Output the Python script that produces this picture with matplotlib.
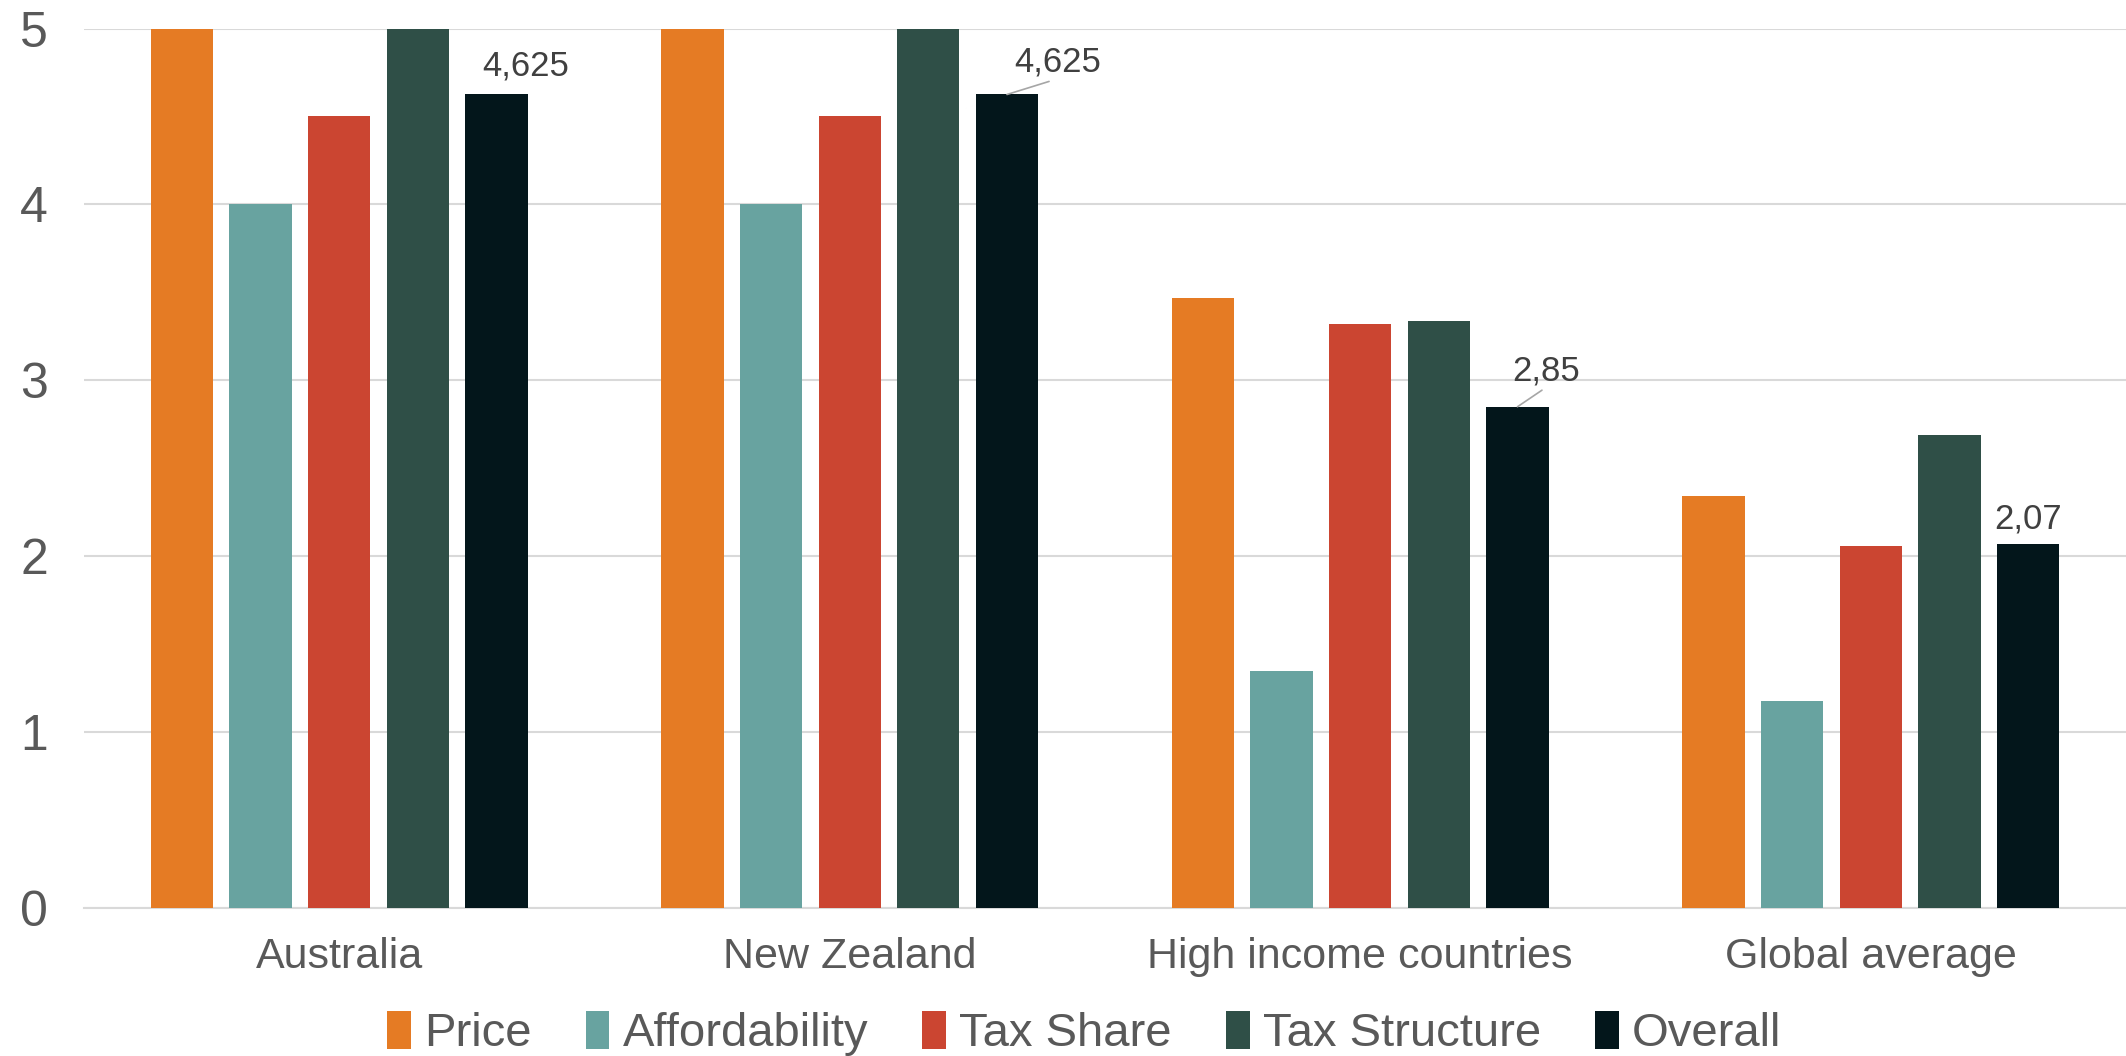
import matplotlib
matplotlib.use('Agg')
import matplotlib.pyplot as plt
import numpy as np

plt.rcParams['font.family'] = ['Liberation Sans', 'DejaVu Sans']

categories = ['Australia', 'New Zealand', 'High income countries', 'Global average']
series = ['Price', 'Affordability', 'Tax Share', 'Tax Structure', 'Overall']
price = [5, 5, 3.47, 2.34]
affordability = [4, 4, 1.35, 1.18]
tax_share = [4.5, 4.5, 3.32, 2.06]
tax_structure = [5, 5, 3.34, 2.69]
overall = [4.625, 4.625, 2.85, 2.07]
overall_labels = ['4,625', '4,625', '2,85', '2,07']

colors = ['#E57B24', '#68A3A0', '#CB4531', '#2F4F47', '#03161B']
values = [price, affordability, tax_share, tax_structure, overall]

fig = plt.figure(figsize=(21.26, 10.56), dpi=100)
ax = fig.add_axes([0.0395, 0.14, 0.9605, 0.833])

x = np.arange(len(categories))
width = 0.122
step = 0.154
for i, (name, vals, c) in enumerate(zip(series, values, colors)):
    ax.bar(x + (i - 2) * step, vals, width, color=c, label=name, zorder=3)

# data labels on the Overall bars (offsets: dx, dy, leader line or not)
label_pos = [(0.058, 0.07, False), (0.10, 0.09, True),
             (0.056, 0.11, True), (0.0, 0.05, False)]
for j, (v, lab) in enumerate(zip(overall, overall_labels)):
    bx = x[j] + 2 * step
    dx, dy, leader = label_pos[j]
    if leader:
        ax.annotate(lab, xy=(bx, v), xytext=(bx + dx, v + dy),
                    fontsize=25, color='#404040', ha='center', va='bottom',
                    arrowprops=dict(arrowstyle='-', color='#a6a6a6', lw=1.2,
                                    shrinkA=0, shrinkB=0, relpos=(0.5, 0)))
    else:
        ax.text(bx + dx, v + dy, lab, fontsize=25, color='#404040',
                ha='center', va='bottom')

ax.set_xlim(-0.5, 3.5)
ax.set_ylim(0, 5)
ax.set_yticks([0, 1, 2, 3, 4, 5])
ax.set_xticks(x)
ax.set_xticklabels(categories, fontsize=31, color='#595959')
ax.tick_params(axis='y', labelsize=36, labelcolor='#595959', length=0, pad=26)
ax.tick_params(axis='x', length=0, pad=21)
ax.grid(axis='y', color='#d9d9d9', lw=1.5, zorder=0)
for s in ['top', 'right', 'left']:
    ax.spines[s].set_visible(False)
ax.spines['bottom'].set_color('#d9d9d9')
ax.spines['bottom'].set_linewidth(1.5)

handles, labels = ax.get_legend_handles_labels()
leg = fig.legend(handles, labels, loc='center', bbox_to_anchor=(0.51, 0.021),
                 ncol=5, frameon=False, fontsize=34, handlelength=0.5,
                 handleheight=0.85, handletextpad=0.28, columnspacing=1.15,
                 borderpad=0)
for t in leg.get_texts():
    t.set_color('#595959')

fig.savefig('out.png', dpi=100)
